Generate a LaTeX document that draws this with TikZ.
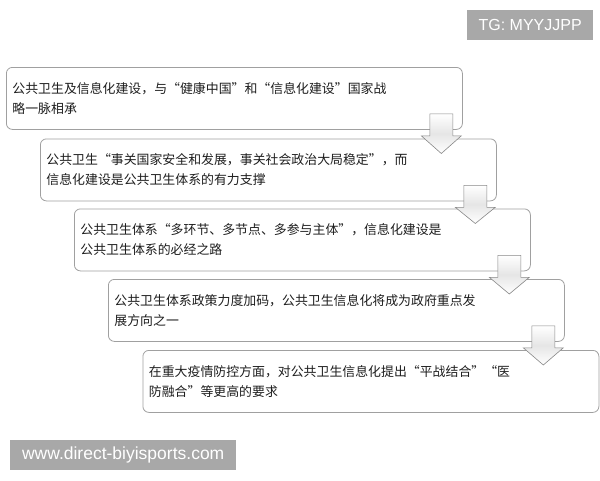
\documentclass[tikz,border=0pt]{standalone}
\usepackage{fontspec}
\setmainfont{Liberation Sans}
\newfontfamily\cjk{Noto Sans CJK SC}
\usetikzlibrary{calc}
\definecolor{boxline}{HTML}{A0A0A0}
\definecolor{tagfill}{HTML}{A8A8A8}
\definecolor{txt}{HTML}{1E1E1E}
\tikzset{
  stagebox/.style={draw=boxline, line width=0.8pt, rounded corners=6pt, fill=white,
    anchor=north west, minimum width=456pt, minimum height=62pt, text width=444pt,
    inner xsep=6pt, align=left, text=txt, font=\cjk\fontsize{12.9}{20}\selectfont},
  tagbox/.style={fill=tagfill, text=white, inner sep=0pt, anchor=north west},
  arrowline/.style={draw=boxline!85!black, line width=0.6pt}
}
\newcommand\flowarrow[2]{%
  \shade[top color=white,bottom color=white,middle color=gray!20]
    let \p1=(#1.south east), \p2=(#2.north) in
    (\x1-33pt,\y1+16pt) -- (\x1-10pt,\y1+16pt) -- (\x1-10pt,\y1-6pt) -- (\x1-1.5pt,\y1-6pt)
    -- (\x1-21.5pt,\y2-15pt) -- (\x1-41.5pt,\y1-6pt) -- (\x1-33pt,\y1-6pt) -- cycle;
  \draw[arrowline]
    let \p1=(#1.south east), \p2=(#2.north) in
    (\x1-33pt,\y1+16pt) -- (\x1-10pt,\y1+16pt) -- (\x1-10pt,\y1-6pt) -- (\x1-1.5pt,\y1-6pt)
    -- (\x1-21.5pt,\y2-15pt) -- (\x1-41.5pt,\y1-6pt) -- (\x1-33pt,\y1-6pt) -- cycle;
}
\begin{document}
\begin{tikzpicture}[x=1pt,y=-1pt]
\useasboundingbox (0,0) rectangle (600,480);
\fill[white] (0,0) rectangle (600,480);
% tags
\node[tagbox, minimum width=126pt, minimum height=30pt] (tg) at (467,10) {\fontsize{16}{16}\selectfont TG: MYYJJPP};
\node[tagbox, minimum width=226pt, minimum height=30pt] (web) at (10,440) {\fontsize{17.5}{17.5}\selectfont www.direct-biyisports.com};
% stages
\node[stagebox] (b1) at (6,67) {公共卫生及信息化建设，与“健康中国”和“信息化建设”国家战\\略一脉相承};
\node[stagebox] (b2) at (40,138.5) {公共卫生“事关国家安全和发展，事关社会政治大局稳定”，而\\信息化建设是公共卫生体系的有力支撑};
\node[stagebox] (b3) at (74,208.5) {公共卫生体系“多环节、多节点、多参与主体”，信息化建设是\\公共卫生体系的必经之路};
\node[stagebox] (b4) at (108,279) {公共卫生体系政策力度加码，公共卫生信息化将成为政府重点发\\展方向之一};
\node[stagebox, minimum width=455pt] (b5) at (142.5,350) {在重大疫情防控方面，对公共卫生信息化提出“平战结合”“医\\防融合”等更高的要求};
% arrows
\flowarrow{b1}{b2}
\flowarrow{b2}{b3}
\flowarrow{b3}{b4}
\flowarrow{b4}{b5}
\end{tikzpicture}
\end{document}
